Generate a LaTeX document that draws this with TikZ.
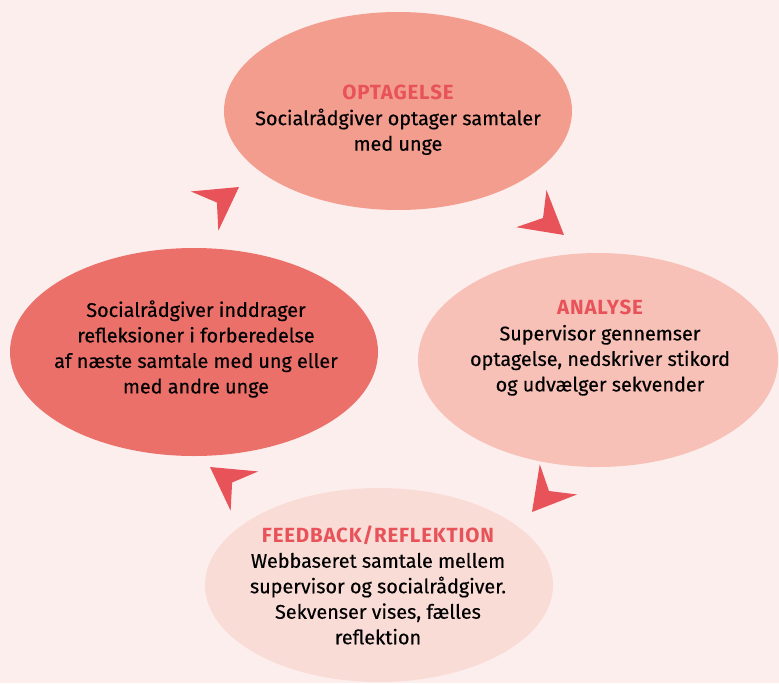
\documentclass[tikz,border=0pt]{standalone}
\usepackage{fontspec}
\setmainfont{Fira Sans}[UprightFeatures={FakeBold=0.35}]
\usetikzlibrary{shapes.geometric}
\definecolor{bgpink}{HTML}{FDEEEE}
\definecolor{headred}{HTML}{E8535A}
\definecolor{optfill}{HTML}{F39D8F}
\definecolor{anafill}{HTML}{F7C1B7}
\definecolor{feedfill}{HTML}{FADCD6}
\definecolor{refl}{HTML}{EC706A}
\tikzset{
  bubble/.style={ellipse, inner sep=0pt, draw=none},
  bubbletext/.style={align=center, text=black, font=\fontsize{19.8}{25.5}\selectfont},
  pics/cyclearrow/.style={code={
    \fill[headred] (0,0) -- (-42,24) -- (-27,0) -- (-42,-24) -- cycle;}}
}
\newcommand{\phase}[1]{{\color{headred}\fontsize{20.5}{25.5}\selectfont\bfseries\addfontfeature{LetterSpace=4}#1}}

\begin{document}
\begin{tikzpicture}[x=1pt,y=-1pt]
      \fill[bgpink] (0,0) rectangle (779,683);
      \useasboundingbox (0,0) rectangle (779,683);
      % the four phases
      \node[bubble, fill=optfill, minimum width=348pt, minimum height=198pt] (optagelse) at (398,111) {};
      \node[bubble, fill=anafill, minimum width=360pt, minimum height=214pt] (analyse) at (598,360) {};
      \node[bubble, fill=refl, minimum width=368pt, minimum height=208pt] (refleksion) at (194,352) {};
      \node[bubble, fill=feedfill, minimum width=348pt, minimum height=194pt] (feedback) at (379,585) {};
      \node[bubbletext] (optagelsetext) at (398,120) {\phase{OPTAGELSE}\\Socialrådgiver optager samtaler\\med unge};
      \node[bubbletext] (analysetext) at (600,348) {\phase{ANALYSE}\\Supervisor gennemser\\optagelse, nedskriver stikord\\og udvælger sekvender};
      \node[bubbletext] (refleksiontext) at (196,349) {Socialrådgiver inddrager\\refleksioner i forberedelse\\af næste samtale med ung eller\\med andre unge};
      \node[bubbletext] (feedbacktext) at (378,585) {\phase{FEEDBACK/REFLEKTION}\\Webbaseret samtale mellem\\supervisor og socialrådgiver.\\Sekvenser vises, fælles\\reflektion};
      % arrows between phases
      \pic[rotate=-39] (toanalyse) at (564,235) {cyclearrow};
      \pic[rotate=-129] (tofeedback) at (532,512) {cyclearrow};
      \pic[rotate=145] (torefleksion) at (210,467) {cyclearrow};
      \pic[rotate=35] (tooptagelse) at (239,187) {cyclearrow};
\end{tikzpicture}
\end{document}
